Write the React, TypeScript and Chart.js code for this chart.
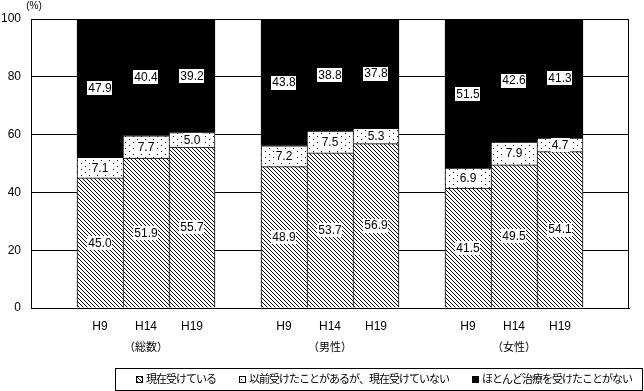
import React, { useEffect, useRef } from "react";
import { Chart, registerables } from "chart.js";

Chart.register(...registerables);

const categories = ["", "H9", "H14", "H19", "", "H9", "H14", "H19", "", "H9", "H14", "H19", ""];
const groupLabels = ["（総数）", "（男性）", "（女性）"];
const groupCenters = [2, 6, 10];
const seriesNames = [
  "現在受けている",
  "以前受けたことがあるが、現在受けていない",
  "ほとんど治療を受けたことがない",
];
const currentVals = [null, 45.0, 51.9, 55.7, null, 48.9, 53.7, 56.9, null, 41.5, 49.5, 54.1, null];
const pastVals = [null, 7.1, 7.7, 5.0, null, 7.2, 7.5, 5.3, null, 6.9, 7.9, 4.7, null];
const neverVals = [null, 47.9, 40.4, 39.2, null, 43.8, 38.8, 37.8, null, 51.5, 42.6, 41.3, null];
const yTicks = [0, 20, 40, 60, 80, 100];
const lastInGroup = [3, 7, 11];

const FONT = "'Liberation Sans', 'Noto Sans CJK JP', sans-serif";

function makeHatch(ctx: CanvasRenderingContext2D) {
  const c = document.createElement("canvas");
  c.width = 4;
  c.height = 4;
  const g = c.getContext("2d")!;
  g.fillStyle = "#fff";
  g.fillRect(0, 0, 4, 4);
  g.fillStyle = "#000";
  for (let i = 0; i < 4; i++) g.fillRect(i, i, 1, 1);
  return ctx.createPattern(c, "repeat")!;
}

function makeDots(ctx: CanvasRenderingContext2D) {
  const c = document.createElement("canvas");
  c.width = 8;
  c.height = 6;
  const g = c.getContext("2d")!;
  g.fillStyle = "#fff";
  g.fillRect(0, 0, 8, 6);
  g.fillStyle = "#000";
  g.fillRect(1, 1, 1, 1);
  g.fillRect(5, 4, 1, 1);
  return ctx.createPattern(c, "repeat")!;
}

export default function App() {
  const ref = useRef<HTMLCanvasElement | null>(null);

  useEffect(() => {
    const canvas = ref.current!;
    const ctx0 = canvas.getContext("2d")!;
    const hatch = makeHatch(ctx0);
    const dots = makeDots(ctx0);
    const fills: any[] = [hatch, dots, "#000"];

    const bw = (c: any) => ({
      top: 1,
      left: 1,
      bottom: 0,
      right: lastInGroup.includes(c.dataIndex) ? 1 : 0,
    });

    const overlay = {
      id: "overlay",
      afterDatasetsDraw(chart: any) {
        const ctx = chart.ctx as CanvasRenderingContext2D;
        ctx.save();
        ctx.font = `12px ${FONT}`;
        ctx.textAlign = "center";
        ctx.textBaseline = "middle";
        chart.data.datasets.forEach((ds: any, di: number) => {
          const meta = chart.getDatasetMeta(di);
          meta.data.forEach((el: any, i: number) => {
            const v = ds.data[i];
            if (v === null || v === undefined) return;
            const p = el.getProps(["x", "y", "base"], true);
            const cy = (p.y + p.base) / 2;
            const txt = v.toFixed(1);
            const w = ctx.measureText(txt).width;
            ctx.fillStyle = "#fff";
            ctx.fillRect(Math.round(p.x - w / 2 - 1), Math.round(cy - 7), Math.round(w + 2), 14);
            ctx.fillStyle = "#000";
            ctx.fillText(txt, p.x, cy + 0.5);
          });
        });
        ctx.restore();
      },
      afterDraw(chart: any) {
        const ctx = chart.ctx as CanvasRenderingContext2D;
        const a = chart.chartArea;
        const xs = chart.scales.x;
        ctx.save();
        // frame
        ctx.strokeStyle = "#000";
        ctx.lineWidth = 1;
        ctx.strokeRect(Math.round(a.left) + 0.5, Math.round(a.top) + 0.5, Math.round(a.right - a.left) - 1, Math.round(a.bottom - a.top));
        // unit
        ctx.fillStyle = "#000";
        ctx.font = `10px ${FONT}`;
        ctx.textAlign = "center";
        ctx.textBaseline = "middle";
        ctx.fillText("(%)", 34, 6);
        // group labels
        ctx.font = `11px ${FONT}`;
        groupLabels.forEach((g, i) => {
          ctx.fillText(g, xs.getPixelForValue(groupCenters[i]), 348);
        });
        // legend
        const bx = 115, by = 368, bwid = 527, bh = 22;
        ctx.strokeRect(bx + 0.5, by + 0.5, bwid, bh);
        ctx.font = `11px ${FONT}`;
        (ctx as any).letterSpacing = "-1px";
        const icon = 7, gapIT = 3;
        const widths = seriesNames.map((s) => ctx.measureText(s).width);
        const itemW = widths.map((w) => icon + gapIT + w);
        const total = itemW.reduce((s, w) => s + w, 0);
        const leftPad = 21, rightPad = 10;
        const gap = (bwid - leftPad - rightPad - total) / 2;
        let x = bx + leftPad;
        const cy = by + bh / 2 + 0.5;
        ctx.textAlign = "left";
        seriesNames.forEach((s, i) => {
          const iy = Math.round(cy - icon / 2);
          ctx.fillStyle = fills[i];
          ctx.fillRect(Math.round(x), iy, icon, icon);
          ctx.strokeStyle = "#000";
          ctx.strokeRect(Math.round(x) + 0.5, iy + 0.5, icon - 1, icon - 1);
          ctx.fillStyle = "#000";
          ctx.fillText(s, x + icon + gapIT, cy);
          x += itemW[i] + gap;
        });
        ctx.restore();
      },
    };

    const chart = new Chart(canvas, {
      type: "bar",
      data: {
        labels: categories,
        datasets: [
          { label: seriesNames[0], data: currentVals as any, backgroundColor: hatch as any, borderColor: "#000", borderWidth: bw as any, borderSkipped: false },
          { label: seriesNames[1], data: pastVals as any, backgroundColor: dots as any, borderColor: "#000", borderWidth: bw as any, borderSkipped: false },
          { label: seriesNames[2], data: neverVals as any, backgroundColor: "#000", borderColor: "#000", borderWidth: bw as any, borderSkipped: false },
        ],
      },
      options: {
        responsive: false,
        animation: false,
        devicePixelRatio: 1,
        layout: { padding: { top: 19, right: 15, left: 0, bottom: 0 } },
        datasets: { bar: { barPercentage: 1, categoryPercentage: 1 } },
        plugins: {
          legend: { display: false },
          tooltip: { enabled: false },
        },
        scales: {
          x: {
            stacked: true,
            grid: { display: false, drawTicks: false },
            border: { display: true, color: "#000" },
            ticks: { color: "#000", font: { family: FONT, size: 12 }, padding: 11, maxRotation: 0, autoSkip: false },
            afterFit: (s: any) => { s.height = 83; },
          },
          y: {
            stacked: true,
            min: 0,
            max: 100,
            afterBuildTicks: (s: any) => { s.ticks = yTicks.map((v) => ({ value: v })); },
            grid: { color: "#000", lineWidth: 1, drawTicks: false },
            border: { display: true, color: "#000" },
            ticks: { color: "#000", font: { family: FONT, size: 12 }, padding: 10 },
            afterFit: (s: any) => { s.width = 31; },
          },
        },
      },
      plugins: [overlay],
    });
    return () => chart.destroy();
  }, []);

  return (
    <div style={{ position: "absolute", left: 0, top: 0, width: 644, height: 391, background: "#fff" }}>
      <canvas ref={ref} width={644} height={391} style={{ display: "block" }} />
    </div>
  );
}
